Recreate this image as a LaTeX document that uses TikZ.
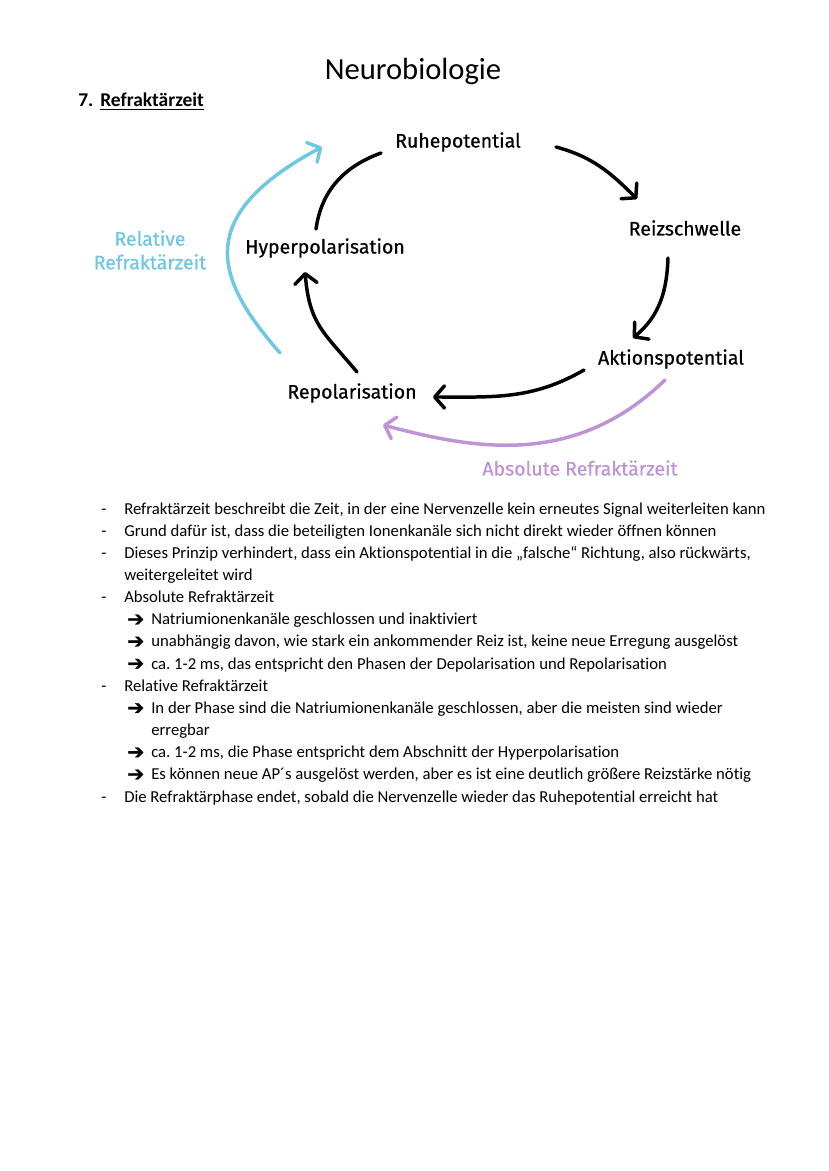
\documentclass[tikz,border=0pt]{standalone}
\usepackage{fontspec}
\setmainfont{Carlito}[Ligatures=NoCommon]
\newfontfamily\diafont{Fira Sans}[FakeBold=0.7]
\newfontfamily\symfont{DejaVu Sans}[FakeBold=1.2]
\usetikzlibrary{arrows.meta}
\definecolor{relblue}{RGB}{110,200,226}
\definecolor{abspurple}{RGB}{190,148,214}
\frenchspacing

\begin{document}
\begin{tikzpicture}[x=0.7186pt, y=0.7186pt,
            stage/.style={font=\diafont\fontsize{14}{17}\selectfont, inner sep=0pt},
            link/.style={line width=2.5pt, line cap=round,
                -{Straight Barb[length=7pt,width=16pt,round]}},
            relarrow/.style={link, color=relblue},
            absarrow/.style={link, color=abspurple},
            body/.style={anchor=base west, inner sep=0pt, font=\fontsize{12}{14}\selectfont},
            pointer/.style={body, font=\symfont\fontsize{14.5}{16}\selectfont}
        ]
            \fill[white] (0,0) rectangle (828,-1171);
            \useasboundingbox (0,0) rectangle (828,-1171);

            % heading
            \node[anchor=base, inner sep=0pt, font=\fontsize{22}{26}\selectfont] (title) at (413,-80) {Neurobiologie};
            \node[anchor=base west, inner sep=0pt, font=\bfseries\fontsize{14}{16}\selectfont] (num) at (78,-107) {7.};
            \node[anchor=base west, inner sep=0pt, font=\bfseries\fontsize{14}{16}\selectfont] (head) at (100,-107) {\underline{Refraktärzeit}};

            % phases
            \node[stage] (ruhe)  at (458,-142) {Ruhepotential};
            \node[stage] (reiz)  at (685,-228) {Reizschwelle};
            \node[stage] (akt)   at (671,-359) {Aktionspotential};
            \node[stage] (repol) at (352,-393) {Repolarisation};
            \node[stage] (hyper) at (325,-248) {Hyperpolarisation};
            \node[stage, color=relblue, align=center] (rel) at (150,-250) {Relative\\Refraktärzeit};
            \node[stage, color=abspurple] (abs) at (580,-468) {Absolute Refraktärzeit};

            % cycle
            \draw[link] ([shift={(98,-5)}]ruhe.center) to[out=-15,in=135] ([shift={(-48,29)}]reiz.center);
            \draw[link] ([shift={(-17,-30)}]reiz.center) to[out=-92,in=40] ([shift={(-38,21)}]akt.center);
            \draw[link] ([shift={(-87,-11)}]akt.center) to[out=-150,in=0] ([shift={(81,-4)}]repol.center);
            \draw[link] ([shift={(5,21)}]repol.center) to[out=130,in=-85,looseness=1.2] ([shift={(-20,-24)}]hyper.center);
            \draw[link, -] ([shift={(-9,19)}]hyper.center) to[out=82,in=-160] ([shift={(-77,-11)}]ruhe.center);

            % refractory periods
            \draw[relarrow] ([shift={(-72,40)}]repol.center) .. controls +(-62,71) and +(-133,-71) .. ([shift={(-136,-5)}]ruhe.center);
            \draw[absarrow] ([shift={(-6,-21)}]akt.center) .. controls +(-91,-88) and +(91,-24) .. ([shift={(31,-32)}]repol.center);

            % text
            \node[body] (d1) at (101,-514.0) {-};
            \node[body] (t1) at (124,-514.0) {Refraktärzeit beschreibt die Zeit, in der eine Nervenzelle kein erneutes Signal weiterleiten kann};
            \node[body] (d2) at (101,-536.2) {-};
            \node[body] (t2) at (124,-536.2) {Grund dafür ist, dass die beteiligten Ionenkanäle sich nicht direkt wieder öffnen können};
            \node[body] (d3) at (101,-558.3) {-};
            \node[body] (t3) at (124,-558.3) {Dieses Prinzip verhindert, dass ein Aktionspotential in die „falsche“ Richtung, also rückwärts,};
            \node[body] (t4) at (124,-580.5) {weitergeleitet wird};
            \node[body] (d5) at (101,-602.6) {-};
            \node[body] (t5) at (124,-602.6) {Absolute Refraktärzeit};
            \node[pointer] (a6) at (127,-625.8) {➔};
            \node[body] (t6) at (151,-624.8) {Natriumionenkanäle geschlossen und inaktiviert};
            \node[pointer] (a7) at (127,-647.9) {➔};
            \node[body] (t7) at (151,-646.9) {unabhängig davon, wie stark ein ankommender Reiz ist, keine neue Erregung ausgelöst};
            \node[pointer] (a8) at (127,-670.1) {➔};
            \node[body] (t8) at (151,-669.1) {ca. 1-2 ms, das entspricht den Phasen der Depolarisation und Repolarisation};
            \node[body] (d9) at (101,-691.2) {-};
            \node[body] (t9) at (124,-691.2) {Relative Refraktärzeit};
            \node[pointer] (a10) at (127,-714.4) {➔};
            \node[body] (t10) at (151,-713.4) {In der Phase sind die Natriumionenkanäle geschlossen, aber die meisten sind wieder};
            \node[body] (t11) at (151,-735.5) {erregbar};
            \node[pointer] (a12) at (127,-758.7) {➔};
            \node[body] (t12) at (151,-757.7) {ca. 1-2 ms, die Phase entspricht dem Abschnitt der Hyperpolarisation};
            \node[pointer] (a13) at (127,-780.8) {➔};
            \node[body] (t13) at (151,-779.8) {Es können neue AP´s ausgelöst werden, aber es ist eine deutlich größere Reizstärke nötig};
            \node[body] (d14) at (101,-802.0) {-};
            \node[body] (t14) at (124,-802.0) {Die Refraktärphase endet, sobald die Nervenzelle wieder das Ruhepotential erreicht hat};
        \end{tikzpicture}
\end{document}
